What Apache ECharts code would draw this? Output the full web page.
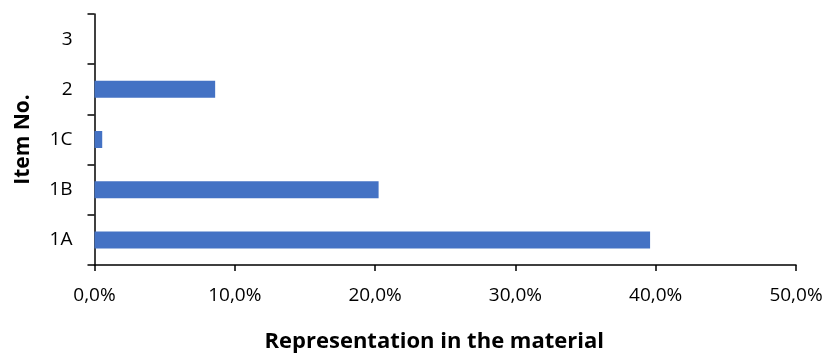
<!DOCTYPE html>
<html>
<head>
<meta charset="utf-8">
<script src="https://cdn.jsdelivr.net/npm/echarts@6/dist/echarts.min.js"></script>
<style>
html,body{margin:0;padding:0;background:#fff;}
#chart{width:829px;height:355px;}
</style>
</head>
<body>
<div id="chart"></div>
<script>
const categories = ['1A', '1B', '1C', '2', '3'];
const values = [39.6, 20.25, 0.55, 8.6, 0];
const xTicks = [0, 10, 20, 30, 40, 50];
const xTitle = 'Representation in the material';
const yTitle = 'Item No.';

const FONT = '"Open Sans", "Noto Sans", sans-serif';
const chart = echarts.init(document.getElementById('chart'), null, {renderer: 'canvas'});
chart.setOption({
  animation: false,
  backgroundColor: '#fff',
  grid: {left: 94.5, right: 33, top: 14, bottom: 90, containLabel: false, outerBoundsMode: 'none'},
  xAxis: {
    type: 'value',
    min: xTicks[0],
    max: xTicks[xTicks.length - 1],
    interval: 10,
    name: xTitle,
    nameLocation: 'middle',
    nameGap: 66,
    nameTextStyle: {fontFamily: FONT, fontSize: 22, fontWeight: 'bold', color: '#000', padding: [0, 22, 0, 0]},
    axisLine: {show: true, lineStyle: {color: '#000', width: 1.5}},
    axisTick: {show: true, length: 6, lineStyle: {color: '#000', width: 1.5}},
    splitLine: {show: false},
    axisLabel: {
      margin: 21,
      fontFamily: FONT, fontSize: 19, color: '#000',
      formatter: v => v.toFixed(1).replace('.', ',') + '%'
    }
  },
  yAxis: {
    type: 'category',
    data: categories,
    name: yTitle,
    nameLocation: 'middle',
    nameGap: 61,
    nameTextStyle: {fontFamily: FONT, fontSize: 21, fontWeight: 'bold', color: '#000'},
    axisLine: {show: true, lineStyle: {color: '#000', width: 1.5}},
    axisTick: {show: true, length: 7, alignWithLabel: false, lineStyle: {color: '#000', width: 1.5}},
    axisLabel: {margin: 22, fontFamily: FONT, fontSize: 19, color: '#000'},
    splitLine: {show: false}
  },
  series: [{
    type: 'bar',
    data: values,
    barWidth: 17,
    itemStyle: {color: '#4472C4'}
  }]
});
</script>
</body>
</html>
